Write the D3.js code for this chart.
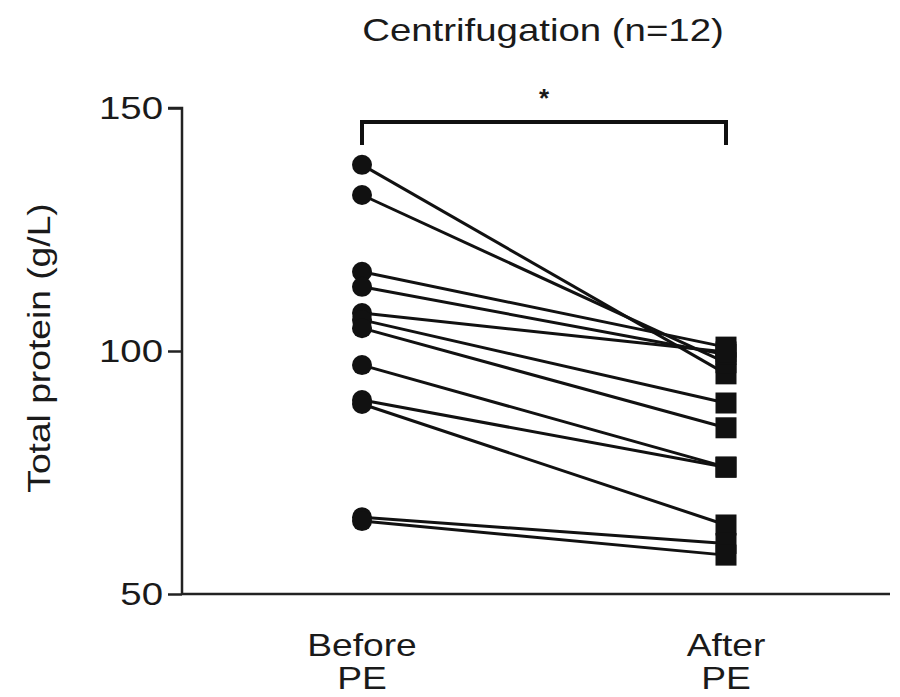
<!DOCTYPE html>
<html><head><meta charset="utf-8">
<script src="https://cdn.jsdelivr.net/npm/d3@7"></script>
<style>body{margin:0;background:#fff}svg{display:block}text{font-family:"Liberation Sans",Arial,sans-serif;fill:#1a1a1a}</style>
</head><body><svg id="c" width="900" height="697"></svg>
<script>
const groups = ["Before\nPE", "After\nPE"];
const before = [138.3, 132.1, 116.3, 113.2, 107.8, 106.4, 104.7, 97.1, 89.9, 89.1, 65.8, 65.0];
const after  = [95.3, 97.6, 100.8, 99.3, 99.8, 89.3, 84.2, 76.1, 76.1, 64.2, 60.4, 58.0];
const yTicks = [50, 100, 150];
const title = "Centrifugation (n=12)";
const yLabel = "Total protein (g/L)";
const sigLabel = "*";

const svg = d3.select("#c");
const x = d3.scalePoint().domain(groups).range([362, 726]);
const y = d3.scaleLinear().domain([50, 150]).range([594, 108]);
const stretch = 1.2;

// axes
const yAx = svg.append("g").attr("transform", "translate(182,0)")
  .call(d3.axisLeft(y).tickValues(yTicks).tickSize(14).tickPadding(6));
yAx.select(".domain").attr("d", `M-14,${y(150)}H0V${y(50)}`).attr("stroke", "#222").attr("stroke-width", 2.5);
yAx.selectAll(".tick line").attr("stroke", "#222").attr("stroke-width", 2.5);
yAx.selectAll(".tick text").attr("font-size", 32).attr("fill", "#1a1a1a")
  .attr("font-family", '"Liberation Sans",Arial,sans-serif')
  .each(function(){ d3.select(this).attr("x", null).attr("transform", `translate(-19,0) scale(${stretch},1)`); });
svg.append("line").attr("x1", 182).attr("x2", 890).attr("y1", y(50)).attr("y2", y(50))
  .attr("stroke", "#222").attr("stroke-width", 2.5);

// x labels
groups.forEach(g => {
  g.split("\n").forEach((l, i) => {
    svg.append("text").attr("transform", `translate(${x(g)},${648 + i*33}) scale(${stretch},1)`)
      .attr("text-anchor", "middle").attr("dominant-baseline", "middle").attr("font-size", 31).text(l);
  });
});

// pair lines
before.forEach((b, i) => {
  svg.append("line").attr("x1", x(groups[0])).attr("y1", y(b)).attr("x2", x(groups[1])).attr("y2", y(after[i]))
    .attr("stroke", "#111").attr("stroke-width", 3);
});
// markers
svg.selectAll("circle.b").data(before).join("circle").attr("class","b")
  .attr("cx", x(groups[0])).attr("cy", d => y(d)).attr("r", 10).attr("fill", "#111");
svg.selectAll("rect.a").data(after).join("rect").attr("class","a")
  .attr("x", x(groups[1]) - 10.5).attr("y", d => y(d) - 10.5).attr("width", 21).attr("height", 21).attr("fill", "#111");

// bracket
const bTop = 122, bBot = 145;
svg.append("path").attr("d", `M${x(groups[0])},${bBot}V${bTop}H${x(groups[1])}V${bBot}`)
  .attr("fill", "none").attr("stroke", "#111").attr("stroke-width", 4);
svg.append("text").attr("x", (x(groups[0]) + x(groups[1]))/2).attr("y", 107)
  .attr("text-anchor", "middle").attr("font-size", 26).attr("font-weight", "bold").text(sigLabel);

// title
svg.append("text").attr("transform", `translate(543,33) scale(${stretch},1)`).attr("text-anchor", "middle")
  .attr("dominant-baseline", "middle").attr("font-size", 32).text(title);
// y label
svg.append("text").attr("transform", `translate(42,348) rotate(-90) scale(${stretch},1)`).attr("text-anchor", "middle")
  .attr("dominant-baseline", "middle").attr("font-size", 31).text(yLabel);
</script></body></html>
